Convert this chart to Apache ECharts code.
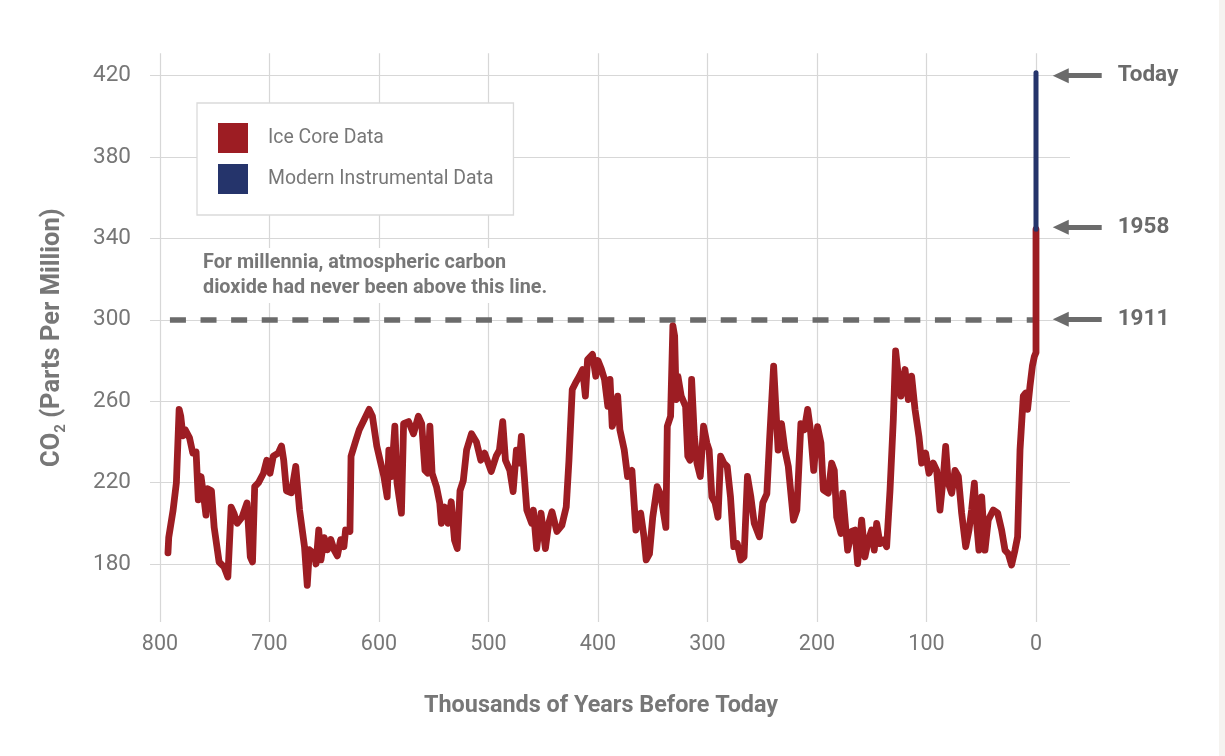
<!DOCTYPE html>
<html><head><meta charset="utf-8">
<script src="https://cdn.jsdelivr.net/npm/echarts@6/dist/echarts.min.js"></script>
<style>html,body{margin:0;padding:0;background:#fff}#c{width:1225px;height:756px}</style>
</head><body><div id="c"></div>
<script>
// Ice core CO2 record: [thousands of years before today, ppm]
const iceCore = [
[792.7,185.5],[792,193],[788,206.5],[785,220],[782.5,256],[781,252.6],[779,243],[777,246],[773,242],[770,234.5],[767,235],[765,211.5],[762.5,223],[760,213],[758,204],[756.5,217],[753,216],[750.5,198],[746,181],[741.5,178.6],[738,173.6],[735,208],[732.5,205],[729.5,200],[725,203],[720.5,210],[717.5,183.5],[715.5,181],[713.5,218],[710,220],[705.5,224.6],[702.5,231],[699.5,224.6],[696.5,233],[692,234.5],[689,238],[687,231],[684.5,216],[680,215],[676,228],[672.5,206.5],[668,188.5],[665.5,169.5],[663.5,187],[659,185],[657.5,180],[655,196.7],[653,182],[650,193],[647,187],[644,192],[641,187],[638,184],[635,192],[632,188.5],[630.5,196.7],[626.5,196],[625.5,233],[621,241],[618,246],[612,252.6],[609,256],[606,252.6],[602,238],[599,231],[595.5,223],[592.5,213],[591,236],[588.5,223],[585.5,247.7],[583.5,219.7],[579.5,205],[577.5,249],[573,250],[568.5,244],[564,252.6],[561,249],[558,226],[555.5,224.6],[553.5,247.7],[551.5,224.6],[547.5,218],[544.5,210],[543,200],[540,208],[537,200],[534,210.6],[531,191.7],[528.5,187.6],[526,216],[523,221],[520,236],[515.5,244],[511,240],[507,231],[503.5,234.5],[497.5,225.5],[493,233],[490,236],[487,250],[484.5,231],[480.5,226],[477.5,215.6],[474.5,236],[472,229.6],[470,242.7],[467.5,224.6],[465,206.5],[460.5,200],[459,206.5],[456,187.6],[452,205],[448,187.6],[445,200],[442,205.7],[437.5,196],[433,199],[429,208],[426.5,231],[423.5,265.8],[420.5,269],[417,272.3],[414,275.6],[411.5,262.5],[409.5,280.5],[405,283],[402,272.3],[400,280],[397,276],[394,270.7],[391,257.5],[389,270.7],[387,247.7],[385,251],[382,262.5],[380,246],[376,236],[373,223],[369,226],[365.4,196.7],[361,205],[358,193.4],[356,182],[353,185],[350,203],[346,218],[343,214.5],[338,198],[336.7,247.7],[333.7,252.6],[331.6,297],[330,292],[328.6,260.8],[327,272.3],[324,262.5],[320,257.5],[318,233],[316,231],[314.5,270.7],[312,242.7],[309.6,229.6],[306.6,223],[303.6,247.7],[300.6,239.5],[298.5,236],[296,213],[293,210],[290.4,203],[288,233],[285,229.6],[282,228],[279,213],[276,188.5],[272.8,190],[269.7,182],[266.6,183.5],[263.5,223],[260.4,213],[257.3,200],[252.6,193.4],[249.5,210],[245.8,214.5],[243.3,241],[239.6,277.3],[237,251],[235.5,236],[232.4,249],[229.3,236],[226.2,228],[221.5,201.6],[218.4,206.5],[214.7,249],[211.6,246],[208.5,256],[206,246],[203,226],[199.5,247.5],[196.4,239.5],[194.2,216.4],[189.7,214.8],[186.6,229.6],[184.2,226],[182,203],[178.1,195],[176.5,214.8],[173.8,198],[172,186.8],[168.3,196],[165.3,196.7],[162.9,180.2],[159.2,201.6],[156.2,183.5],[153.1,191.7],[150.1,196.7],[147.7,186.8],[145.5,200],[142.5,190],[139.4,191.7],[136.4,188.5],[133.3,216.4],[130.3,251],[128.2,284.7],[125.7,272.3],[123.3,262.5],[119.6,275.6],[116.6,260.8],[113.6,272.3],[110.5,256],[106.9,242.7],[104.4,229.6],[100.8,234.5],[97.7,224.6],[93.8,229.6],[90.7,226],[87.7,206.5],[84.6,223],[82.5,237.8],[80.1,219.7],[77,214.8],[74,226],[70.9,223],[67.9,205],[64.2,188.5],[61.2,196.7],[58.8,206.5],[56.3,219.7],[54.2,200],[52.1,186.8],[49.6,213],[46.6,186.8],[43.6,201.6],[39,206.5],[35,205],[31.4,196.7],[28.3,186.8],[25.3,185],[22.3,179.5],[19.2,186.8],[16.8,193.4],[14.6,236],[11.6,262.5],[9.5,264],[7.7,256],[5.5,267.4],[3.3,277.3],[1.5,282],[0,284],[0,344.5]
];
// Modern instrumental record (1958 -> today), at 0 kyr
const modern = [[0,344.5],[0,421.5]];

const xTicks = [800,700,600,500,400,300,200,100,0];
const yTicks = [180,220,260,300,340,380,420];
const arrowNames = ['Today','1958','1911'];
const arrowValues = [420,345.5,300.3];
const thresholdValue = 300;

// axis extents
const X_LEFT = 809.1, X_RIGHT = -131.5, PLOT_X_END = -31.05;
const DASH_START = 790.9;
const Y_MIN = 151.5, Y_MAX = 431;
const ARROW_TAIL = -60, ARROW_TIP = -22.6;

const GRAY = '#777777', DARK = '#6b6b6b', FONT = 'Roboto';

const gridLines = [];
xTicks.forEach(v => gridLines.push({xAxis: v}));
yTicks.forEach(v => gridLines.push([{coord:[X_LEFT, v]},{coord:[PLOT_X_END, v]}]));

const arrows = arrowNames.map((n,i) => [
  {name: n, coord:[ARROW_TAIL, arrowValues[i]]},
  {coord:[ARROW_TIP, arrowValues[i]]}
]);

const chart = echarts.init(document.getElementById('c'), null, {renderer:'canvas'});
chart.setOption({
  animation: false,
  backgroundColor: '#ffffff',
  textStyle: {fontFamily: FONT},
  grid: {left:150, right:45, top:53.3, bottom:134},
  title: [
    {text: 'For millennia, atmospheric carbon\ndioxide had never been above this line.',
     left: 198, top: 248, padding: [3,5,2,5], backgroundColor: '#ffffff',
     textStyle: {fontFamily: FONT, fontSize: 19.8, fontWeight: 'bold', color: GRAY, lineHeight: 25}},
    {text: 'Thousands of Years Before Today', left: 424, top: 695, padding: 0,
     textStyle: {fontFamily: FONT, fontSize: 23.4, fontWeight: 'bold', color: GRAY}}
  ],
  legend: {
    data: [{name:'Ice Core Data', icon:'rect'},{name:'Modern Instrumental Data', icon:'rect'}],
    orient: 'vertical', left: 197, top: 103,
    itemWidth: 30, itemHeight: 30, itemGap: 11,
    padding: [20,20,21,21],
    borderColor: '#dadada', borderWidth: 1.3, backgroundColor: '#ffffff',
    selectedMode: false,
    itemStyle: {borderWidth: 0},
    textStyle: {fontFamily: FONT, fontSize: 19.4, color: GRAY, padding: [0,0,0,15]}
  },
  graphic: [{type:'rect', right: 0, top: 0, shape:{width:6, height:756}, style:{fill:'#f5f3f0'}, silent:true}],
  xAxis: {
    type: 'value', inverse: true, min: X_RIGHT, max: X_LEFT, splitNumber: 9,
    axisLine: {show:false}, axisTick: {show:false}, splitLine: {show:false},
    axisLabel: {margin: 12, fontFamily: FONT, fontSize: 21.5, color: GRAY,
      formatter: v => (v >= 0 && v <= 800 && Math.abs(v % 100) < 1e-6) ? String(Math.round(v)) : ''}
  },
  yAxis: {
    type: 'value', min: Y_MIN, max: Y_MAX, splitNumber: 14,
    axisLine: {show:false}, axisTick: {show:false}, splitLine: {show:false},
    axisLabel: {margin: 19, fontFamily: FONT, fontSize: 22.5, color: GRAY,
      formatter: v => (yTicks.some(t => Math.abs(t - v) < 1e-6)) ? String(Math.round(v)) : ''},
    name: '{a|CO}{s|2}{a| (Parts Per Million)}',
    nameLocation: 'middle', nameGap: 81,
    nameTextStyle: {rich: {
      a: {fontFamily: FONT, fontSize: 25.5, fontWeight: 'bold', color: GRAY, lineHeight: 32, verticalAlign: 'middle'},
      s: {fontFamily: FONT, fontSize: 15, fontWeight: 'bold', color: GRAY, lineHeight: 32, verticalAlign: 'bottom'}
    }}
  },
  series: [
    {name: 'grid', type: 'line', data: [], z: 1, silent: true,
     markLine: {z: 1, silent: true, symbol: 'none', label: {show:false}, animation:false,
       lineStyle: {color: '#d7d7d7', width: 1.2, type: 'solid'}, emphasis:{disabled:true},
       data: gridLines}},
    {name: 'threshold', type: 'line', data: [], z: 2, silent: true,
     markLine: {z: 2, silent: true, symbol: 'none', label: {show:false}, animation:false, emphasis:{disabled:true},
       lineStyle: {color: DARK, width: 5.5, type: [16, 14.6], cap: 'butt'},
       data: [[{coord:[DASH_START, thresholdValue]},{coord:[0, thresholdValue]}]]}},
    {name: 'Ice Core Data', type: 'line', data: iceCore, z: 3, color: '#9d1d23',
     showSymbol: false, symbol: 'none', silent: true,
     itemStyle: {color: '#9d1d23'},
     lineStyle: {color: '#9d1d23', width: 6.8, join: 'round', cap: 'round'}},
    {name: 'Modern Instrumental Data', type: 'line', data: modern, z: 4, color: '#25346b',
     showSymbol: false, symbol: 'none', silent: true,
     itemStyle: {color: '#25346b'},
     lineStyle: {color: '#25346b', width: 5, cap: 'round'}},
    {name: 'arrows', type: 'line', data: [], z: 5, silent: true, clip: false,
     markLine: {z: 5, silent: true, symbol: ['none','triangle'], symbolSize: [15,16], animation:false, emphasis:{disabled:true},
       lineStyle: {color: DARK, width: 5, type: 'solid'},
       label: {show: true, position: 'start', distance: 16, formatter: '{b}', padding: [4,0,0,0],
         fontFamily: FONT, fontSize: 22.5, fontWeight: 'bold', color: DARK},
       data: arrows}}
  ]
});
</script></body></html>
